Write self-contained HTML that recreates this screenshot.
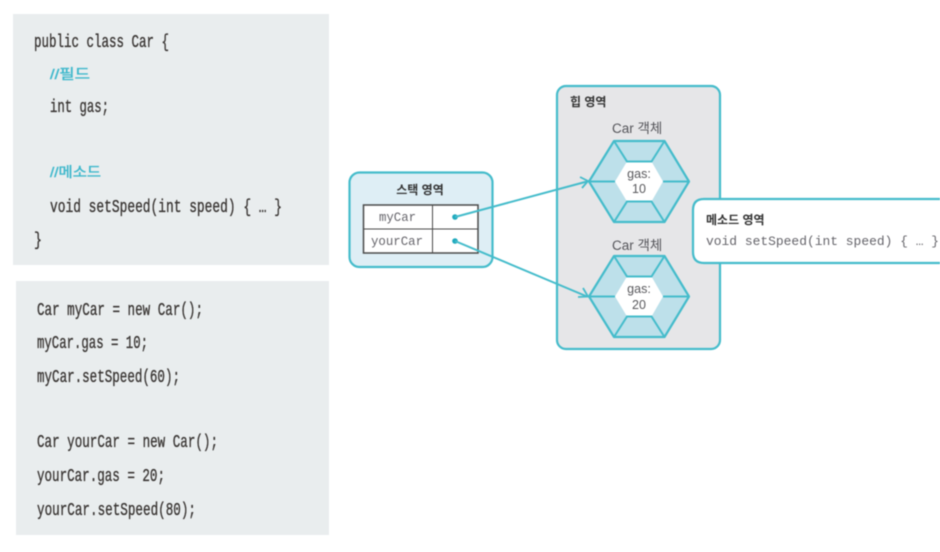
<!DOCTYPE html>
<html><head><meta charset="utf-8"><style>html,body{margin:0;padding:0;background:#fff;width:940px;height:552px;overflow:hidden}svg{display:block;filter:blur(.5px)}
.c{font-family:"Liberation Mono","Noto Sans CJK KR",monospace;font-size:18px;fill:#3a3634;stroke:#3a3634;stroke-width:.35px}
.k{font-family:"Liberation Sans","Noto Sans CJK KR",sans-serif}
.m{font-family:"Liberation Mono",monospace;font-size:12.500px;fill:#66656b}
</style></head><body>
<svg width="940" height="552" viewBox="0 0 940 552" xmlns="http://www.w3.org/2000/svg">
<defs>
<g id="hex">
<polygon points="-50,0 -25,-40.5 25.5,-40.5 50,0 25.5,40.5 -25,40.5" fill="#bde0ea" stroke="#45bccb" stroke-width="2.200" stroke-linejoin="round"/>
<polygon points="-24,0 -12,-20 12.500,-20 24,0 12.500,20 -12,20" fill="#fff"/>
<path d="M-50,0H-24M24,0H50M-25,-40.500L-12,-20H12.500L25.500,-40.500M-25,40.500L-12,20H12.500L25.500,40.500" stroke="#45bccb" stroke-width="2" fill="none"/>
</g>
</defs>
<rect x="13" y="14" width="316" height="251" fill="#e9edee"/>
<rect x="16" y="281" width="313" height="254" fill="#e9edee"/>

<text class="c" x="34" y="47" textLength="135" lengthAdjust="spacingAndGlyphs">public class Car {</text>
<text class="k" x="50" y="79" font-size="14" fill="#3fb8cc" stroke="#3fb8cc" stroke-width=".4" textLength="40" lengthAdjust="spacingAndGlyphs">//필드</text>
<text class="c" x="50" y="112" textLength="59" lengthAdjust="spacingAndGlyphs">int gas;</text>
<text class="k" x="50" y="177" font-size="14" fill="#3fb8cc" stroke="#3fb8cc" stroke-width=".4" textLength="51" lengthAdjust="spacingAndGlyphs">//메소드</text>
<text class="c" x="50" y="212" textLength="232" lengthAdjust="spacingAndGlyphs">void setSpeed(int speed) { … }</text>
<text class="c" x="34" y="245" textLength="8" lengthAdjust="spacingAndGlyphs">}</text>

<text class="c" x="37" y="315" textLength="166" lengthAdjust="spacingAndGlyphs">Car myCar = new Car();</text>
<text class="c" x="37" y="348" textLength="111" lengthAdjust="spacingAndGlyphs">myCar.gas = 10;</text>
<text class="c" x="37" y="382" textLength="143" lengthAdjust="spacingAndGlyphs">myCar.setSpeed(60);</text>
<text class="c" x="37" y="447" textLength="181" lengthAdjust="spacingAndGlyphs">Car yourCar = new Car();</text>
<text class="c" x="37" y="481" textLength="128" lengthAdjust="spacingAndGlyphs">yourCar.gas = 20;</text>
<text class="c" x="37" y="515" textLength="159" lengthAdjust="spacingAndGlyphs">yourCar.setSpeed(80);</text>

<rect x="557" y="86" width="163" height="263" rx="9" fill="#e6e6e8" stroke="#45bccb" stroke-width="2.200"/>
<text class="k" x="570" y="106" font-size="12" font-weight="bold" fill="#333">힙 영역</text>
<text class="k" x="612" y="133" font-size="13.500" fill="#55555a">Car 객체</text>
<text class="k" x="612" y="250" font-size="13.500" fill="#55555a">Car 객체</text>
<use href="#hex" x="639" y="181.5"/>
<use href="#hex" x="639" y="296.5"/>
<g class="k" font-size="12.500" fill="#58585c" text-anchor="middle">
<text x="639" y="178">gas:</text><text x="639" y="193">10</text>
<text x="639" y="293">gas:</text><text x="639" y="309">20</text>
</g>

<rect x="349.500" y="172.500" width="143" height="94.500" rx="10" fill="#deeef5" stroke="#45bccb" stroke-width="2.200"/>
<text class="k" x="420" y="194" font-size="12" font-weight="bold" fill="#333" text-anchor="middle">스택 영역</text>
<rect x="363.500" y="205" width="114.500" height="48" fill="#fff" stroke="#4a4a4a" stroke-width="1.500"/>
<path d="M363.500,229H478M432.500,205V253" stroke="#4a4a4a" stroke-width="1"/>
<text class="m" x="379" y="221" textLength="37" lengthAdjust="spacingAndGlyphs">myCar</text>
<text class="m" x="371" y="245" textLength="52" lengthAdjust="spacingAndGlyphs">yourCar</text>

<circle cx="455" cy="217" r="2.800" fill="#1ea9bd"/>
<circle cx="455" cy="241" r="2.800" fill="#1ea9bd"/>
<path d="M455,217L587,181.500M455,241L587,296.500" stroke="#45bccb" stroke-width="2" fill="none"/>
<path d="M580,177L588,181L582,188M578,297L588,296.500L583,288" stroke="#45bccb" stroke-width="1.800" fill="none"/>

<path d="M945,199H704Q693,199 693,210V252Q693,263 704,263H945" fill="#fff" stroke="#45bccb" stroke-width="2.200"/>
<text class="k" x="706" y="224" font-size="12" font-weight="bold" fill="#333">메소드 영역</text>
<text class="m" x="706" y="245" textLength="233" lengthAdjust="spacingAndGlyphs">void setSpeed(int speed) { … }</text>
</svg>
</body></html>
